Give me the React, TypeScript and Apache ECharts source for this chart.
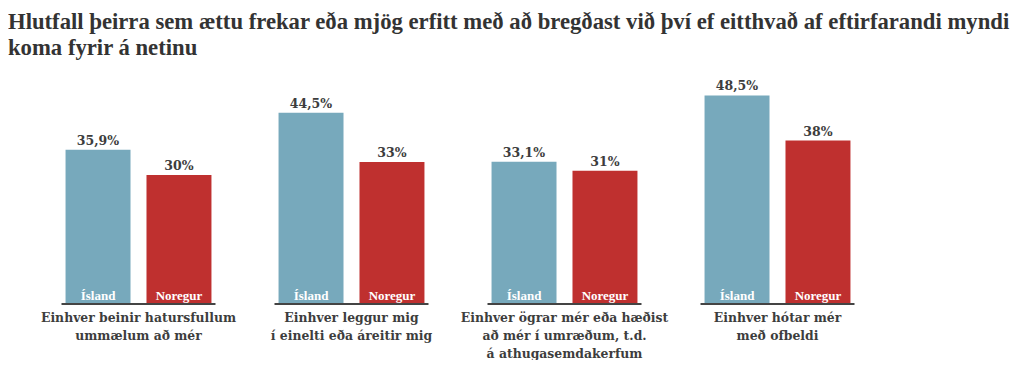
import React, { useEffect, useRef } from "react";
import * as echarts from "echarts";

const titleText =
  "Hlutfall þeirra sem ættu frekar eða mjög erfitt með að bregðast við því ef eitthvað af eftirfarandi myndi\nkoma fyrir á netinu";
const categories = [
  "Einhver beinir hatursfullum\nummælum að mér",
  "Einhver leggur mig\ní einelti eða áreitir mig",
  "Einhver ögrar mér eða hæðist\nað mér í umræðum, t.d.\ná athugasemdakerfum",
  "Einhver hótar mér\nmeð ofbeldi",
];
const seriesNames = ["Ísland", "Noregur"];
const islandValues = [35.9, 44.5, 33.1, 48.5];
const norwayValues = [30, 33, 31, 38];

const BLUE = "#77a9bc";
const RED = "#bf302f";
const DARK = "#3d3d3d";
const SERIF = "'Liberation Serif', 'DejaVu Serif', serif";
const WIDE_SERIF = "'DejaVu Serif', 'Liberation Serif', serif";
const BAR_RATIO = 0.305;
const GAP_RATIO = 0.246;

const fmt = (v: number) => String(v).replace(".", ",") + "%";

export default function App() {
  const ref = useRef<HTMLDivElement>(null);
  useEffect(() => {
    if (!ref.current) return;
    const chart = echarts.init(ref.current, null, { renderer: "svg" });
    const valueLabel = {
      show: true,
      position: "top" as const,
      distance: 3,
      color: DARK,
      fontFamily: WIDE_SERIF,
      fontWeight: "bold" as const,
      fontSize: 12.5,
      formatter: (p: any) => fmt(p.value),
    };
    chart.setOption({
      animation: false,
      backgroundColor: "#ffffff",
      title: {
        text: titleText,
        left: 3,
        top: 3,
        textStyle: {
          fontFamily: SERIF,
          fontWeight: "bold",
          fontSize: 22.7,
          lineHeight: 26,
          color: "#333333",
        },
      },
      grid: { left: 32, right: 140, top: 89, bottom: 64, containLabel: false },
      xAxis: {
        type: "category",
        data: categories,
        axisLine: { show: false },
        axisTick: { show: false },
        axisLabel: {
          margin: 4,
          interval: 0,
          color: DARK,
          fontFamily: WIDE_SERIF,
          fontWeight: "bold",
          fontSize: 12.4,
          lineHeight: 18,
          verticalAlign: "top",
        },
      },
      yAxis: {
        type: "value",
        min: 0,
        max: 50,
        show: false,
        splitLine: { show: false },
      },
      series: [
        {
          name: seriesNames[0],
          type: "bar",
          data: islandValues,
          barWidth: BAR_RATIO * 100 + "%",
          barGap: GAP_RATIO * 100 + "%",
          itemStyle: { color: BLUE },
          label: valueLabel,
        },
        {
          name: seriesNames[1],
          type: "bar",
          data: norwayValues,
          barWidth: BAR_RATIO * 100 + "%",
          barGap: GAP_RATIO * 100 + "%",
          itemStyle: { color: RED },
          label: valueLabel,
        },
        {
          type: "custom",
          data: categories.map((_, i) => [i, 0]),
          z: 5,
          silent: true,
          renderItem: (params: any, api: any) => {
            const c = api.coord([api.value(0), 0]);
            const band = api.size([1, 0])[0];
            const barW = band * BAR_RATIO;
            const off = (barW + barW * GAP_RATIO) / 2;
            const half = band * 0.3615;
            const textStyle = {
              fill: "#ffffff",
              font: `bold 13px ${SERIF}`,
              align: "center",
              verticalAlign: "bottom",
            };
            return {
              type: "group",
              children: [
                {
                  type: "line",
                  shape: { x1: c[0] - half, y1: c[1], x2: c[0] + half, y2: c[1] },
                  style: { stroke: "#444444", lineWidth: 2 },
                },
                {
                  type: "text",
                  x: c[0] - off,
                  y: c[1] - 2,
                  style: { ...textStyle, text: seriesNames[0] },
                },
                {
                  type: "text",
                  x: c[0] + off,
                  y: c[1] - 2,
                  style: { ...textStyle, text: seriesNames[1] },
                },
              ],
            };
          },
        },
      ],
    });
    return () => chart.dispose();
  }, []);
  return <div ref={ref} style={{ width: 1024, height: 368, margin: -8 }} />;
}
